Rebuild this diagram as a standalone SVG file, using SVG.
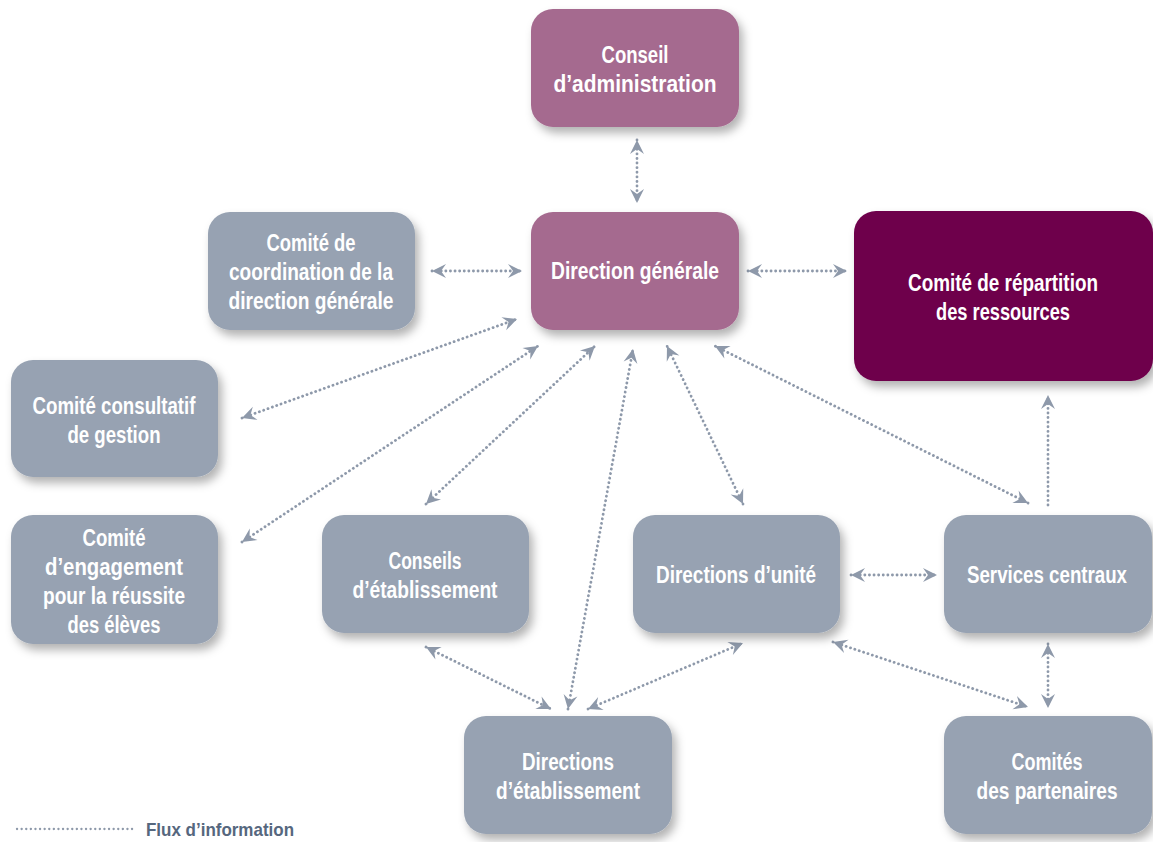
<svg xmlns="http://www.w3.org/2000/svg" width="1153" height="842" viewBox="0 0 1153 842">
<defs>
<filter id="sh" x="-20%" y="-20%" width="150%" height="160%">
<feDropShadow dx="4" dy="6" stdDeviation="5" flood-color="#000" flood-opacity="0.3"/>
</filter>
<marker id="ah" viewBox="-15 -8 15 16" refX="0" refY="0" markerWidth="15" markerHeight="16" markerUnits="userSpaceOnUse" orient="auto-start-reverse">
<path d="M0,0 L-14,-7 L-9,0 L-14,7 Z" fill="#8e99aa"/>
</marker>
</defs>
<style>
.box{filter:url(#sh);}
.g{fill:#97a2b2;}
.p{fill:#a56a8f;}
.d{fill:#6e004c;}
text{font-family:"Liberation Sans",Arial,sans-serif;font-weight:bold;font-size:23px;fill:#ffffff;text-anchor:middle;}
.lk{fill:none;stroke:#8e99aa;stroke-width:2.8;stroke-linecap:round;stroke-dasharray:0.1 4.5;}
.bi{marker-start:url(#ah);marker-end:url(#ah);}
.un{marker-end:url(#ah);}
.leg{font-size:19px;fill:#56677e;text-anchor:start;}
</style>
<rect width="1153" height="842" fill="#ffffff"/>

<g id="connectors">
<path class="lk bi" d="M637,140 L637,203"/>
<path class="lk bi" d="M432,271 L522,271"/>
<path class="lk bi" d="M748,271 L847,271"/>
<path class="lk bi" d="M242,418 L517,319"/>
<path class="lk bi" d="M242,542 L538,346"/>
<path class="lk bi" d="M426,504 L595,346"/>
<path class="lk bi" d="M568,709 L633,349"/>
<path class="lk bi" d="M743,504 L667,346"/>
<path class="lk bi" d="M1028,503 L715,346"/>
<path class="lk bi" d="M851,575 L937,575"/>
<path class="lk bi" d="M426,647 L551,709"/>
<path class="lk bi" d="M588,709 L743,643"/>
<path class="lk bi" d="M833,642 L1028,707"/>
<path class="lk bi" d="M1048,644 L1048,708"/>
<path class="lk un" d="M1048,505 L1048,395"/>
</g>

<g id="conseil-administration">
<rect class="box p" x="531" y="9" width="208" height="118" rx="22"/>
<text x="635" y="63" textLength="67" lengthAdjust="spacingAndGlyphs">Conseil</text>
<text x="635" y="92" textLength="163" lengthAdjust="spacingAndGlyphs">d’administration</text>
</g>

<g id="direction-generale">
<rect class="box p" x="531" y="212" width="208" height="118" rx="22"/>
<text x="635" y="279" textLength="168" lengthAdjust="spacingAndGlyphs">Direction générale</text>
</g>

<g id="comite-coordination">
<rect class="box g" x="208" y="212" width="207" height="118" rx="22"/>
<text x="311" y="251" textLength="89" lengthAdjust="spacingAndGlyphs">Comité de</text>
<text x="311" y="280" textLength="164" lengthAdjust="spacingAndGlyphs">coordination de la</text>
<text x="311" y="309" textLength="165" lengthAdjust="spacingAndGlyphs">direction générale</text>
</g>

<g id="comite-repartition">
<rect class="box d" x="854" y="211" width="299" height="170" rx="22"/>
<text x="1003" y="291" textLength="190" lengthAdjust="spacingAndGlyphs">Comité de répartition</text>
<text x="1003" y="320" textLength="134" lengthAdjust="spacingAndGlyphs">des ressources</text>
</g>

<g id="comite-consultatif">
<rect class="box g" x="11" y="360" width="207" height="117" rx="22"/>
<text x="114" y="414" textLength="163" lengthAdjust="spacingAndGlyphs">Comité consultatif</text>
<text x="114" y="443" textLength="93" lengthAdjust="spacingAndGlyphs">de gestion</text>
</g>

<g id="comite-engagement">
<rect class="box g" x="11" y="515" width="207" height="129" rx="22"/>
<text x="114" y="546" textLength="63" lengthAdjust="spacingAndGlyphs">Comité</text>
<text x="114" y="575" textLength="138" lengthAdjust="spacingAndGlyphs">d’engagement</text>
<text x="114" y="604" textLength="142" lengthAdjust="spacingAndGlyphs">pour la réussite</text>
<text x="114" y="633" textLength="93" lengthAdjust="spacingAndGlyphs">des élèves</text>
</g>

<g id="conseils-etablissement">
<rect class="box g" x="322" y="515" width="207" height="118" rx="22"/>
<text x="425" y="569" textLength="73" lengthAdjust="spacingAndGlyphs">Conseils</text>
<text x="425" y="598" textLength="145" lengthAdjust="spacingAndGlyphs">d’établissement</text>
</g>

<g id="directions-unite">
<rect class="box g" x="633" y="515" width="207" height="118" rx="22"/>
<text x="736" y="583" textLength="160" lengthAdjust="spacingAndGlyphs">Directions d’unité</text>
</g>

<g id="services-centraux">
<rect class="box g" x="944" y="515" width="208" height="118" rx="22"/>
<text x="1047" y="583" textLength="160" lengthAdjust="spacingAndGlyphs">Services centraux</text>
</g>

<g id="directions-etablissement">
<rect class="box g" x="464" y="716" width="208" height="118" rx="22"/>
<text x="568" y="770" textLength="92" lengthAdjust="spacingAndGlyphs">Directions</text>
<text x="568" y="799" textLength="144" lengthAdjust="spacingAndGlyphs">d’établissement</text>
</g>

<g id="comites-partenaires">
<rect class="box g" x="944" y="716" width="208" height="118" rx="22"/>
<text x="1047" y="770" textLength="71" lengthAdjust="spacingAndGlyphs">Comités</text>
<text x="1047" y="799" textLength="141" lengthAdjust="spacingAndGlyphs">des partenaires</text>
</g>

<g id="legend">
<path class="lk" d="M17,829 L133,829" style="stroke-width:2.3"/>
<text class="leg" x="146" y="836" textLength="148" lengthAdjust="spacingAndGlyphs">Flux d’information</text>
</g>
</svg>
